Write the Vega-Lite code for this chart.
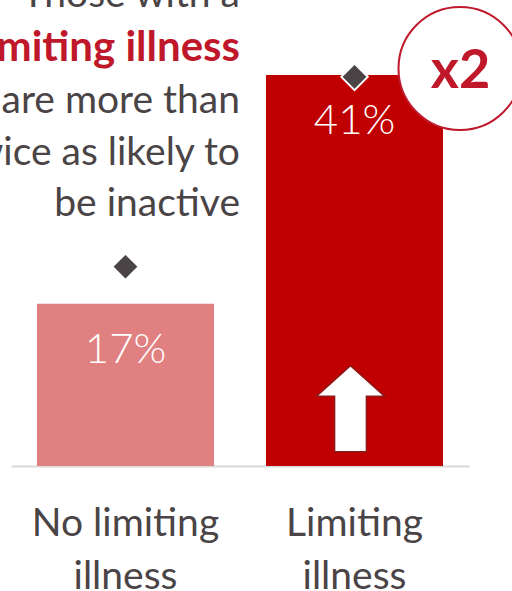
{
  "$schema": "https://vega.github.io/schema/vega-lite/v6.json",
  "width": 458,
  "height": 466,
  "autosize": {"type": "none"},
  "padding": {"left": 11, "top": 0, "right": 43, "bottom": 125},
  "background": "white",
  "config": {"view": {"stroke": null}, "font": "Lato"},
  "datasets": {
    "bars": [
      {"category": "No limiting illness", "pct": 17, "label": "17%", "marker": 20.9},
      {"category": "Limiting illness", "pct": 41, "label": "41%", "marker": 40.8}
    ],
    "notes": [
      {"line": "Those with a", "v": 48.1, "kind": "plain"},
      {"line": "limiting illness", "v": 42.47, "kind": "bold"},
      {"line": "are more than", "v": 37.01, "kind": "plain"},
      {"line": "twice as likely to", "v": 31.56, "kind": "plain"},
      {"line": "be inactive", "v": 26.21, "kind": "plain"}
    ],
    "arrow": [{"category": "Limiting illness", "v": 6.0}],
    "badge": [{"category": "Limiting illness", "v": 41.68, "text": "x2", "tv": 39.63}]
  },
  "encoding": {
    "x": {
      "field": "category",
      "type": "nominal",
      "sort": ["No limiting illness", "Limiting illness"],
      "scale": {"domain": ["No limiting illness", "Limiting illness"], "paddingInner": 0.227, "paddingOuter": 0.1135},
      "axis": {
        "title": null,
        "ticks": false,
        "labelAngle": 0,
        "domainColor": "#D9D9D9",
        "domainWidth": 2,
        "labelFont": "Lato",
        "labelFontSize": 39,
        "labelColor": "#4A4446",
        "labelLineHeight": 53,
        "labelBaseline": "alphabetic",
        "labelPadding": 69,
        "labelLimit": 400,
        "labelExpr": "datum.label == 'No limiting illness' ? ['No limiting', 'illness'] : ['Limiting', 'illness']"
      }
    }
  },
  "layer": [
    {
      "data": {"name": "bars"},
      "mark": {"type": "bar"},
      "encoding": {
        "y": {"field": "pct", "type": "quantitative", "scale": {"domain": [0, 48.86], "nice": false}, "axis": null},
        "color": {"field": "category", "type": "nominal", "scale": {"domain": ["No limiting illness", "Limiting illness"], "range": ["#E08080", "#C00000"]}, "legend": null}
      }
    },
    {
      "data": {"name": "bars"},
      "mark": {"type": "text", "baseline": "alphabetic", "dy": 59, "color": "white", "fontSize": 42, "fontWeight": 300, "font": "Lato"},
      "encoding": {
        "y": {"field": "pct", "type": "quantitative", "scale": {"domain": [0, 48.86], "nice": false}, "axis": null},
        "text": {"field": "label"}
      }
    },
    {
      "data": {"name": "bars"},
      "mark": {"type": "point", "shape": "diamond", "filled": true, "fill": "#4A4446", "stroke": "white", "strokeWidth": 2, "size": 700, "opacity": 1},
      "encoding": {
        "y": {"field": "marker", "type": "quantitative", "scale": {"domain": [0, 48.86], "nice": false}, "axis": null}
      }
    },
    {
      "data": {"name": "arrow"},
      "mark": {"type": "point", "shape": "M0,-1 L0.79,-0.29 L0.37,-0.29 L0.37,1 L-0.37,1 L-0.37,-0.29 L-0.79,-0.29 Z", "filled": true, "fill": "white", "stroke": "#8C1A1A", "strokeWidth": 1.5, "size": 7396, "opacity": 1, "xOffset": -4},
      "encoding": {
        "y": {"field": "v", "type": "quantitative", "scale": {"domain": [0, 48.86], "nice": false}, "axis": null}
      }
    },
    {
      "data": {"name": "badge"},
      "mark": {"type": "point", "shape": "circle", "filled": true, "fill": "white", "stroke": "#C0182B", "strokeWidth": 2, "size": 15129, "opacity": 1, "xOffset": 105.5},
      "encoding": {
        "y": {"field": "v", "type": "quantitative", "scale": {"domain": [0, 48.86], "nice": false}, "axis": null}
      }
    },
    {
      "data": {"name": "badge"},
      "mark": {"type": "text", "baseline": "alphabetic", "align": "center", "dx": 106, "color": "#C0182B", "fontSize": 54, "fontWeight": "bold", "font": "Lato"},
      "encoding": {
        "y": {"field": "tv", "type": "quantitative", "scale": {"domain": [0, 48.86], "nice": false}, "axis": null},
        "text": {"field": "text"}
      }
    },
    {
      "data": {"name": "notes"},
      "transform": [{"filter": "datum.kind == 'plain'"}],
      "mark": {"type": "text", "baseline": "alphabetic", "align": "right", "dx": 114.5, "color": "#4A4446", "fontSize": 39, "font": "Lato"},
      "encoding": {
        "x": {"datum": "No limiting illness", "type": "nominal"},
        "y": {"field": "v", "type": "quantitative", "scale": {"domain": [0, 48.86], "nice": false}, "axis": null},
        "text": {"field": "line"}
      }
    },
    {
      "data": {"name": "notes"},
      "transform": [{"filter": "datum.kind == 'bold'"}],
      "mark": {"type": "text", "baseline": "alphabetic", "align": "right", "dx": 114.5, "color": "#C0182B", "fontSize": 42, "fontWeight": "bold", "font": "Lato"},
      "encoding": {
        "x": {"datum": "No limiting illness", "type": "nominal"},
        "y": {"field": "v", "type": "quantitative", "scale": {"domain": [0, 48.86], "nice": false}, "axis": null},
        "text": {"field": "line"}
      }
    }
  ]
}
